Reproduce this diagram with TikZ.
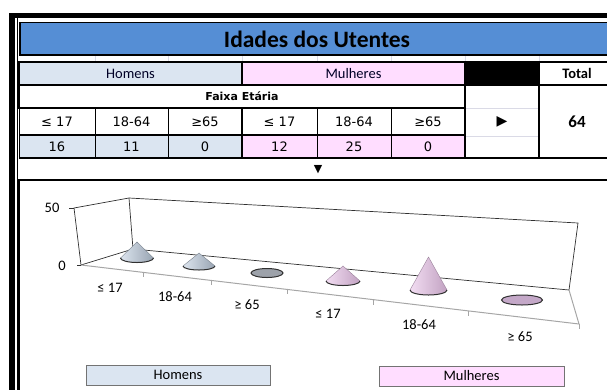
\documentclass[tikz,border=0pt]{standalone}
\usepackage{fontspec}
\usepackage{xcolor}
\usepackage{tikz}
\setmainfont{Carlito}
\newfontfamily\cellfont{DejaVu Sans}
\usetikzlibrary{positioning}

\definecolor{titleblue}{HTML}{558ED5}
\definecolor{homfill}{HTML}{DBE5F1}
\definecolor{mulfill}{HTML}{FFDDFF}
\definecolor{gridgray}{HTML}{DADAE6}
\definecolor{framegray}{HTML}{303030}
\definecolor{floorgray}{HTML}{A6A6A6}
\definecolor{homlight}{HTML}{DCE4EE}
\definecolor{homdark}{HTML}{98A4B2}
\definecolor{mullight}{HTML}{F2DDF2}
\definecolor{muldark}{HTML}{C2A2C2}
\definecolor{homflat}{HTML}{9DA2AA}
\definecolor{mulflat}{HTML}{C4A8C8}

\newcommand{\drawcone}[7]{%
  \shade[left color=#6, middle color=white, right color=#7]
    ({#1-#3},#2) -- (#1,#5) -- ({#1+#3},#2) arc (0:180:#3 and #4) -- cycle;
  \draw[#7!80!black, line width=0.4pt] ({#1-#3},#2) -- (#1,#5) -- ({#1+#3},#2);
  \draw[framegray, line width=1pt] ({#1+#3},#2) arc (0:180:#3 and #4);
}

\tikzset{
  hdr/.style={draw, line width=1.3pt, inner sep=0pt, minimum height=23pt,
    text=black!85!blue, font=\fontsize{14.5}{16}\selectfont},
  cell/.style={draw, line width=0.9pt, inner sep=0pt,
    font=\cellfont\fontsize{13}{15}\selectfont},
  axislabel/.style={inner sep=0pt, font=\fontsize{14.5}{16}\selectfont},
  legbox/.style={draw=black!55, line width=1pt, inner sep=0pt, minimum height=20pt,
    font=\fontsize{14.5}{16}\selectfont}
}

\begin{document}
\begin{tikzpicture}[x=1pt, y=-1pt]
    \useasboundingbox (0,0) rectangle (607,389);

    % sheet frame
    \fill[black] (9,13) rectangle (15,392);
    \fill[black] (9,13) rectangle (610,18);
    \draw[black, line width=1pt] (17.5,18) -- (17.5,392);
    \foreach \gx in {95,168,242,317,391,465,539}
        \draw[gridgray, line width=0.5pt] (\gx,54) -- (\gx,62);

    % title
    \node[draw, line width=1.5pt, fill=titleblue, inner sep=0pt,
          minimum width=595pt, minimum height=32.5pt, anchor=north west] (title) at (19,21.5) {};
    \node[inner sep=0pt, font=\fontsize{23.5}{27}\selectfont\bfseries] (titletext) at (317,39) {Idades dos Utentes};

    % table
    \node[hdr, fill=homfill, minimum width=223pt] (homens) at (130.5,73.5) {Homens};
    \node[hdr, fill=mulfill, minimum width=223pt] (mulheres) at (353.5,73.5) {Mulheres};
    \node[hdr, fill=black, minimum width=74pt] (blackcell) at (502,73.5) {};
    \node[hdr, minimum width=76pt, text=black, font=\fontsize{14.5}{16}\selectfont\bfseries] (total) at (577,73.5) {Total};

    \node[cell, line width=1.3pt, minimum width=446pt, minimum height=23pt,
          font=\cellfont\fontsize{11}{13}\selectfont\bfseries] (faixa) at (242,96.5) {Faixa Etária};

    \node[cell, minimum width=76pt, minimum height=27pt] (h17) at (57,121.5) {≤ 17};
    \node[cell, minimum width=73pt, minimum height=27pt] (h1864) at (131.5,121.5) {18-64};
    \node[cell, minimum width=74pt, minimum height=27pt] (h65) at (205,121.5) {≥65};
    \node[cell, minimum width=75pt, minimum height=27pt] (m17) at (279.5,121.5) {≤ 17};
    \node[cell, minimum width=74pt, minimum height=27pt] (m1864) at (354,121.5) {18-64};
    \node[cell, minimum width=74pt, minimum height=27pt] (m65) at (428,121.5) {≥65};

    \node[cell, fill=homfill, minimum width=76pt, minimum height=23pt] (hv17) at (57,146.5) {16};
    \node[cell, fill=homfill, minimum width=73pt, minimum height=23pt] (hv1864) at (131.5,146.5) {11};
    \node[cell, fill=homfill, minimum width=74pt, minimum height=23pt] (hv65) at (205,146.5) {0};
    \node[cell, fill=mulfill, minimum width=75pt, minimum height=23pt] (mv17) at (279.5,146.5) {12};
    \node[cell, fill=mulfill, minimum width=74pt, minimum height=23pt] (mv1864) at (354,146.5) {25};
    \node[cell, fill=mulfill, minimum width=74pt, minimum height=23pt] (mv65) at (428,146.5) {0};
    \draw[line width=1.3pt] (19,108) -- (465,108);
    \draw[line width=1.3pt] (19,135) -- (465,135);
    \draw[line width=1.3pt] (242,62) -- (242,85);
    \draw[line width=1.3pt] (242,108) -- (242,158);
    \draw[line width=1.3pt] (19,158) -- (465,158);

    \draw[gridgray, line width=0.5pt] (465,108) -- (539,108);
    \draw[gridgray, line width=0.5pt] (465,136) -- (539,136);
    \node[cell, line width=1.3pt, minimum width=74pt, minimum height=73pt,
          font=\cellfont\fontsize{14}{16}\selectfont] (arrowcell) at (502,121.5) {▶};
    \node[cell, line width=1.3pt, minimum width=76pt, minimum height=73pt,
          font=\fontsize{17}{19}\selectfont\bfseries] (sum) at (577,121.5) {64};

    \node[inner sep=0pt, font=\cellfont\fontsize{11}{12}\selectfont] (down) at (318,170) {▼};

    % chart area
    \draw[line width=2pt] (19,180) rectangle (620,400);

    \draw[framegray, line width=0.7pt] (74,208) -- (129,198) -- (578,223) -- (569,290) -- (133,249) -- (81,265) -- cycle;
    \draw[framegray, line width=0.7pt] (129,198) -- (133,249);
    \draw[floorgray, line width=1pt] (81,265) -- (579,324) -- (569,290);
    \draw[floorgray, line width=0.8pt] (579,324) -- (579,329);
    \draw[framegray, line width=0.7pt] (69,208) -- (74,208);
    \draw[framegray, line width=0.7pt] (77,265) -- (81,265);
    \foreach \tx in {143,211,287,373,468}
        \draw[floorgray, line width=0.8pt] (\tx,{265+(\tx-81)/498*59}) -- ++(0,5);

    \node[axislabel] (y50) at (52,208) {50};
    \node[axislabel] (y0) at (62,266) {0};

    \drawcone{137}{258}{16.5}{4.5}{242}{homlight}{homdark}
    \drawcone{199}{266}{16}{4}{253}{homlight}{homdark}
    \draw[framegray, fill=homflat, line width=1pt] (267,273) ellipse (16 and 4.5);
    \drawcone{343}{281}{17}{4.5}{266}{mullight}{muldark}
    \drawcone{428.5}{290}{18.5}{5}{257}{mullight}{muldark}
    \draw[framegray, fill=mulflat, line width=1pt] (522,300) ellipse (20.5 and 5);

    \node[axislabel] (c1) at (110,288) {≤ 17};
    \node[axislabel] (c2) at (175,297) {18-64};
    \node[axislabel] (c3) at (247,305) {≥ 65};
    \node[axislabel] (c4) at (328,314) {≤ 17};
    \node[axislabel] (c5) at (419,325) {18-64};
    \node[axislabel] (c6) at (520,337) {≥ 65};

    % legend
    \node[legbox, fill=homfill, minimum width=184pt] (leghom) at (178,375) {Homens};
    \node[legbox, fill=mulfill, minimum width=185pt] (legmul) at (471.5,376) {Mulheres};
\end{tikzpicture}
\end{document}
